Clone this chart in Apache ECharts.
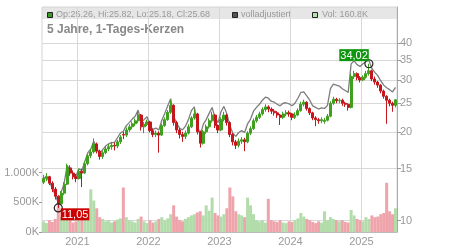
<!DOCTYPE html>
<html>
<head>
<meta charset="utf-8">
<script src="https://cdn.jsdelivr.net/npm/echarts@6/dist/echarts.min.js"></script>
<style>
  html, body { margin: 0; padding: 0; background: #fff; }
  #chart { width: 450px; height: 250px; }
</style>
</head>
<body>
<div id="chart"></div>
<script>
// Kategorien: zwei Kerzen pro Monat, Juli 2020 bis Juni 2025
const dates = []
for (let y = 2020, m = 7; dates.length < 120; m++) {
  if (m > 12) { m = 1; y++ }
  const mm = String(m).padStart(2, '0')
  dates.push(y + '-' + mm + '-1', y + '-' + mm + '-2')
}

// Kerzen: [open, close, low, high]
const candles = [
  [13.5, 13.9, 13.3, 14.3], [13.9, 14.1, 13.6, 14.5], [14.1, 13.4, 13.2, 14.2], [13.4, 12.8, 12.5, 13.6],
  [12.8, 12.1, 11.8, 13.0], [12.1, 11.4, 11.05, 12.2], [11.4, 12.4, 11.3, 12.6], [12.4, 13.3, 12.2, 13.5],
  [13.3, 15.1, 13.2, 15.6], [15.1, 14.5, 14.2, 15.4], [14.5, 14.1, 13.8, 14.8], [14.1, 13.9, 13.5, 14.4],
  [13.9, 14.7, 13.8, 15.0], [14.7, 14.5, 13.0, 15.0], [14.5, 15.6, 14.4, 15.9], [15.6, 16.6, 15.4, 16.9],
  [16.6, 17.1, 16.3, 17.5], [17.1, 18.2, 16.9, 19.0], [18.2, 17.2, 16.9, 18.4], [17.2, 16.5, 16.1, 17.4],
  [16.5, 17.0, 16.2, 17.3], [17.0, 17.5, 16.8, 17.9], [17.5, 17.8, 17.2, 18.2], [17.8, 18.0, 17.4, 18.5],
  [18.0, 17.9, 17.3, 18.4], [17.9, 18.5, 17.6, 18.8], [18.5, 19.2, 18.2, 19.5], [19.6, 19.5, 18.9, 20.0],
  [19.5, 20.3, 19.2, 20.7], [20.3, 20.8, 20.0, 21.2], [20.8, 21.3, 20.4, 21.7], [21.3, 21.8, 20.9, 22.2],
  [21.8, 22.8, 21.4, 23.5], [22.8, 20.8, 20.2, 23.0], [20.8, 21.2, 19.8, 21.6], [21.2, 21.6, 20.9, 22.0],
  [21.6, 20.2, 19.9, 21.8], [20.2, 19.6, 19.2, 20.5], [19.6, 19.8, 19.2, 20.2], [19.8, 19.5, 17.0, 20.1],
  [19.5, 21.0, 19.4, 21.3], [21.0, 22.0, 20.8, 22.4], [22.0, 23.3, 21.8, 23.7], [23.3, 24.6, 23.0, 25.6],
  [24.6, 21.5, 21.0, 24.8], [21.5, 20.3, 19.8, 21.8], [20.3, 19.6, 19.0, 20.6], [19.6, 19.3, 18.5, 20.0],
  [19.3, 19.8, 18.9, 20.2], [19.8, 20.8, 19.6, 21.2], [20.8, 22.3, 20.6, 22.6], [22.3, 23.0, 22.0, 23.8],
  [23.0, 20.0, 19.6, 23.2], [20.0, 18.3, 17.7, 20.2], [18.3, 20.0, 18.1, 20.3], [20.0, 20.8, 19.7, 21.2],
  [20.8, 21.8, 20.5, 22.2], [21.8, 22.8, 21.5, 23.4], [22.8, 21.0, 20.6, 23.0], [21.0, 20.3, 19.8, 21.2],
  [20.3, 22.0, 20.1, 22.4], [22.0, 22.8, 21.7, 23.4], [22.8, 21.5, 21.0, 23.0], [21.5, 19.6, 19.2, 21.7],
  [19.6, 18.5, 18.0, 19.8], [18.5, 18.0, 17.5, 18.8], [18.0, 18.6, 17.7, 19.0], [18.6, 18.8, 18.2, 19.2],
  [18.8, 18.5, 17.2, 19.1], [18.5, 19.8, 18.3, 20.1], [19.8, 20.5, 19.5, 20.9], [20.5, 21.8, 20.3, 22.2],
  [21.8, 22.4, 21.5, 22.8], [22.4, 23.0, 22.1, 23.4], [23.0, 23.8, 22.7, 24.2], [23.8, 24.3, 23.4, 24.8],
  [24.3, 23.9, 23.3, 24.6], [23.9, 23.5, 23.0, 24.2], [23.5, 23.2, 22.7, 23.9], [23.2, 22.8, 22.3, 23.5],
  [22.8, 22.4, 21.1, 23.0], [22.4, 23.0, 22.1, 23.4], [23.0, 23.2, 22.6, 23.7], [23.2, 23.0, 22.5, 23.6],
  [23.0, 22.4, 21.9, 23.2], [22.4, 22.8, 22.1, 23.3], [22.8, 23.6, 22.6, 24.0], [23.6, 24.8, 23.4, 25.3],
  [24.8, 25.2, 24.4, 25.7], [25.2, 24.0, 23.6, 25.4], [24.0, 23.2, 22.8, 24.2], [23.2, 22.3, 21.9, 23.4],
  [22.3, 22.0, 20.9, 22.6], [22.0, 21.8, 21.3, 22.3], [21.8, 22.0, 21.4, 22.4], [21.7, 21.9, 21.3, 22.3],
  [21.9, 22.6, 21.7, 23.0], [22.6, 25.0, 22.4, 25.4], [25.0, 25.8, 24.7, 26.3], [25.8, 25.5, 25.0, 26.1],
  [25.5, 25.6, 25.0, 26.0], [25.6, 25.0, 24.5, 25.9], [25.0, 24.8, 24.3, 25.3], [24.8, 24.2, 23.6, 25.0],
  [24.2, 30.8, 24.0, 31.5], [30.8, 31.5, 30.2, 32.2], [31.5, 30.5, 29.9, 31.8], [30.5, 30.0, 29.4, 30.9],
  [30.0, 30.6, 29.7, 31.1], [30.6, 31.5, 30.3, 32.2], [31.5, 32.2, 31.0, 34.02], [32.2, 30.2, 29.7, 32.5],
  [30.2, 29.5, 28.9, 30.8], [29.5, 28.8, 28.2, 29.8], [28.8, 27.5, 27.0, 29.0], [27.5, 26.4, 25.9, 27.8],
  [26.4, 25.6, 21.3, 26.6], [25.6, 25.0, 24.4, 25.9], [25.0, 24.6, 23.4, 25.3], [24.6, 25.68, 24.2, 25.82]
]

// volladjustierter Kurs
const adjusted = [
  13.9, 14.1, 13.5, 12.9, 12.2, 11.5, 12.5, 13.4,
  15.4, 14.8, 14.4, 14.2, 15.0, 14.8, 15.9, 17.0, 17.5, 18.6, 17.6, 16.9, 17.4, 17.9, 18.2, 18.4, 18.4,
  19.1, 19.8, 20.1, 21.0, 21.5, 22.1, 22.6, 23.7, 21.6, 22.0, 22.5, 21.0, 20.4, 20.6, 20.3, 21.9,
  23.1, 24.5, 25.9, 22.6, 21.4, 20.6, 20.3, 20.9, 22.0, 23.6, 24.3, 21.2, 19.4, 21.2, 22.0, 23.1, 24.2, 22.3, 21.5, 23.4,
  24.4, 23.0, 21.0, 19.8, 19.3, 19.9, 20.2, 19.9, 21.3, 22.1, 23.5, 24.2, 24.8,
  25.6, 26.2, 26.0, 25.4, 25.2, 24.8, 24.5, 25.0, 25.1, 24.9, 24.5, 25.0,
  26.0, 27.2, 27.3, 26.5, 25.6, 24.5, 24.2, 23.9, 24.1, 24.0,
  24.6, 28.0, 29.0, 28.8, 28.6, 28.0, 27.6, 27.2,
  34.0, 34.8, 33.8, 33.3, 34.0, 34.6, 35.0,
  32.8, 31.8, 31.0, 29.8, 28.8, 28.2, 27.8, 27.3, 28.3
]

// Volumen in Stück
const volume = [
  180, 150, 200, 170, 220, 450, 250, 300, 350, 200,
  160, 180, 200, 240, 300, 330, 720, 530, 400, 250,
  220, 180, 200, 160, 180, 210, 230, 750, 250, 200,
  180, 160, 220, 260, 180, 150, 200, 160, 180, 220,
  250, 200, 230, 300, 450, 260, 200, 180, 220, 250,
  280, 300, 330, 350, 280, 450, 360, 580, 320, 280,
  260, 300, 400, 750, 600, 350, 300, 280, 250, 580,
  450, 300, 200, 180, 200, 160, 560, 200, 180, 170,
  200, 160, 150, 180, 170, 200, 230, 320, 260, 220,
  200, 170, 150, 180, 160, 350, 200, 250, 220, 200,
  180, 200, 170, 160, 370, 280, 220, 200, 180, 250,
  220, 280, 250, 260, 300, 320, 830, 350, 300, 400
].map(v => v * 1000)

const priceTicks = [10, 15, 20, 25, 30, 35, 40]
const volTicks = [0, 500000, 1000000]
const highIdx = 110
const lowIdx = 5

const GREEN = '#3f9f1f'
const RED = '#c4161c'
const VOL_UP = '#b3dcab'
const VOL_DOWN = '#efa4ac'
const FONT = 'Liberation Sans'

const isYearStart = (i, v) => /-01-1$/.test(v)

const chart = echarts.init(document.getElementById('chart'), null, { renderer: 'canvas' })

const option = {
  animation: false,
  textStyle: { fontFamily: FONT },
  grid: { left: 42, right: 53, top: 7, bottom: 18, show: true, borderColor: '#d4d4d4', borderWidth: 1 },
  xAxis: {
    type: 'category',
    data: dates,
    boundaryGap: true,
    axisLine: { lineStyle: { color: '#bbb' } },
    axisTick: { interval: isYearStart, length: 3, lineStyle: { color: '#999' } },
    axisLabel: {
      interval: isYearStart,
      formatter: v => v.slice(0, 4),
      color: '#999', fontSize: 11, margin: 4, padding: [0, 3, 0, 0]
    },
    splitLine: { show: true, interval: isYearStart, lineStyle: { color: '#d8d8d8' } }
  },
  yAxis: [
    {
      type: 'log',
      position: 'right',
      min: 9.157,
      max: 52.97,
      axisLine: { show: true, lineStyle: { color: '#aaa' } },
      axisTick: { show: true, length: 4, customValues: priceTicks, lineStyle: { color: '#999' } },
      axisLabel: { customValues: priceTicks, color: '#999', fontSize: 11, margin: 3 },
      splitLine: { show: true, lineStyle: { color: '#d8d8d8' } }
    },
    {
      type: 'value',
      position: 'left',
      min: 0,
      max: 3794000,
      axisLine: { show: false },
      axisTick: { show: true, length: 3, customValues: volTicks, lineStyle: { color: '#999' } },
      axisLabel: {
        customValues: volTicks,
        color: '#999', fontSize: 11, margin: 3,
        formatter: v => v === 1000000 ? '1.000K' : (v / 1000) + 'K'
      },
      splitLine: { show: false }
    }
  ],
  series: [
    {
      name: 'Volumen',
      type: 'bar',
      yAxisIndex: 1,
      barWidth: 3,
      z: 1,
      data: volume.map((v, i) => ({
        value: v,
        itemStyle: { color: candles[i][1] >= candles[i][0] ? VOL_UP : VOL_DOWN }
      }))
    },
    {
      name: 'volladjustiert',
      type: 'line',
      yAxisIndex: 0,
      data: adjusted,
      showSymbol: false,
      lineStyle: { color: '#7d7d7d', width: 1.3 },
      z: 2
    },
    {
      name: 'Kurs',
      type: 'candlestick',
      yAxisIndex: 0,
      barWidth: 2.6,
      z: 3,
      data: candles,
      itemStyle: {
        color: GREEN, color0: RED, borderColor: GREEN, borderColor0: RED, borderWidth: 1
      },
      markPoint: {
        symbol: 'circle',
        symbolSize: 8,
        itemStyle: { color: 'rgba(0,0,0,0)', borderColor: '#222', borderWidth: 1.2 },
        label: {
          show: true,
          color: '#fff',
          fontSize: 11,
          fontFamily: FONT,
          padding: [1, 1, 0, 1],
          lineHeight: 11
        },
        data: [
          {
            coord: [dates[highIdx], candles[highIdx][3]],
            label: { formatter: '34,02', backgroundColor: '#0f960f', position: [-25, -10] }
          },
          {
            coord: [dates[lowIdx], candles[lowIdx][2]],
            label: { formatter: '11,05', backgroundColor: '#cc0000', position: [7, 5] }
          }
        ]
      }
    }
  ],
  graphic: [
    { type: 'rect', z: -1, shape: { x: 42, y: 7, width: 355, height: 12 }, style: { fill: '#e6e6e6' } },
    { type: 'rect', shape: { x: 47.5, y: 12.5, width: 5, height: 5 }, style: { fill: '#3a9a22', stroke: '#222', lineWidth: 1 } },
    { type: 'text', x: 56, y: 15, style: { text: 'Op:25.26, Hi:25.82, Lo:25.18, Cl:25.68', fill: '#999', font: '9px "Liberation Sans"', verticalAlign: 'middle' } },
    { type: 'rect', shape: { x: 232.5, y: 12.5, width: 5, height: 5 }, style: { fill: '#555', stroke: '#222', lineWidth: 1 } },
    { type: 'text', x: 241, y: 15, style: { text: 'volladjustiert', fill: '#999', font: '9px "Liberation Sans"', verticalAlign: 'middle' } },
    { type: 'rect', shape: { x: 312.5, y: 12.5, width: 5, height: 5 }, style: { fill: '#b8e0b0', stroke: '#222', lineWidth: 1 } },
    { type: 'text', x: 322, y: 15, style: { text: 'Vol: 160.8K', fill: '#999', font: '9px "Liberation Sans"', verticalAlign: 'middle' } },
    { type: 'text', x: 47, y: 30, style: { text: '5 Jahre, 1-Tages-Kerzen', fill: '#888', font: 'bold 12px "Liberation Sans"', verticalAlign: 'middle' } }
  ]
}

chart.setOption(option)
</script>
</body>
</html>
